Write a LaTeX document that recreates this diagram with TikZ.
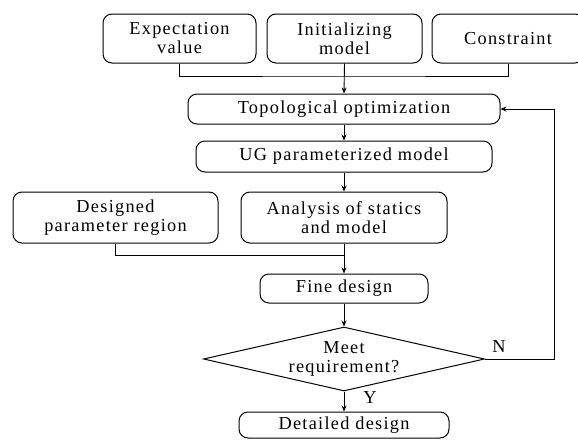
\documentclass[tikz,border=0pt]{standalone}
\usepackage{fontspec}
\setmainfont{Liberation Serif}[LetterSpace=7]
\usetikzlibrary{shapes.geometric,arrows.meta}

\tikzset{
  box/.style={rectangle, rounded corners=9pt, draw=black, line width=1pt, text centered, align=center, inner sep=0pt},
  decide/.style={diamond, draw=black, line width=1pt, align=center, inner sep=0pt, aspect=4.4},
  arrow/.style={-{Stealth[length=6pt,width=5pt]}, line width=0.9pt},
  line/.style={line width=0.9pt}
}

\begin{document}
\begin{tikzpicture}[x=1pt, y=-1pt, font=\fontsize{18.3}{19}\selectfont]
\useasboundingbox (0,0) rectangle (578,439);
\clip (0,0) rectangle (578,439);

\node (expect) [box, minimum width=153pt, minimum height=49pt] at (179.5,38.5) {Expectation\\value};
\node (init) [box, minimum width=155pt, minimum height=49pt] at (344.5,38.5) {Initializing\\model};
\node (constraint) [box, minimum width=152pt, minimum height=49pt] at (508,38.5) {Constraint};
\node (topo) [box, minimum width=312pt, minimum height=30pt] at (344,109) {Topological optimization};
\node (ugmodel) [box, minimum width=296pt, minimum height=31pt] at (344,156.5) {UG parameterized model};
\node (region) [box, minimum width=205pt, minimum height=51pt] at (115.5,217.5) {Designed\\parameter region};
\node (analysis) [box, minimum width=206pt, minimum height=51pt] at (344,217.5) {Analysis of statics\\and model};
\node (fine) [box, minimum width=168pt, minimum height=29pt] at (344,288.5) {Fine design};
\node (meet) [decide, minimum width=281pt, minimum height=64pt] at (344,359) {Meet\\requirement?};
\node (detail) [box, minimum width=210pt, minimum height=26pt] at (344,425) {Detailed design};

\coordinate (join1) at (344,76);
\coordinate (join2) at (344,255);
\coordinate (back) at (554,359);

\draw[line] (expect.south) |- (join1) -| (constraint.south);
\draw[arrow] (init.south) -- (topo.north);
\draw[arrow] (topo.south) -- (ugmodel.north);
\draw[arrow] (ugmodel.south) -- (analysis.north);
\draw[line] (region.south) |- (join2);
\draw[arrow] (analysis.south) -- (fine.north);
\draw[arrow] (fine.south) -- (meet.north);
\draw[arrow] (meet.south) -- (detail.north);
\draw[arrow] (meet.east) -- (back) |- (topo.east);

\node (no) at (499,347) {N};
\node (yes) at (370,398) {Y};

\end{tikzpicture}
\end{document}
